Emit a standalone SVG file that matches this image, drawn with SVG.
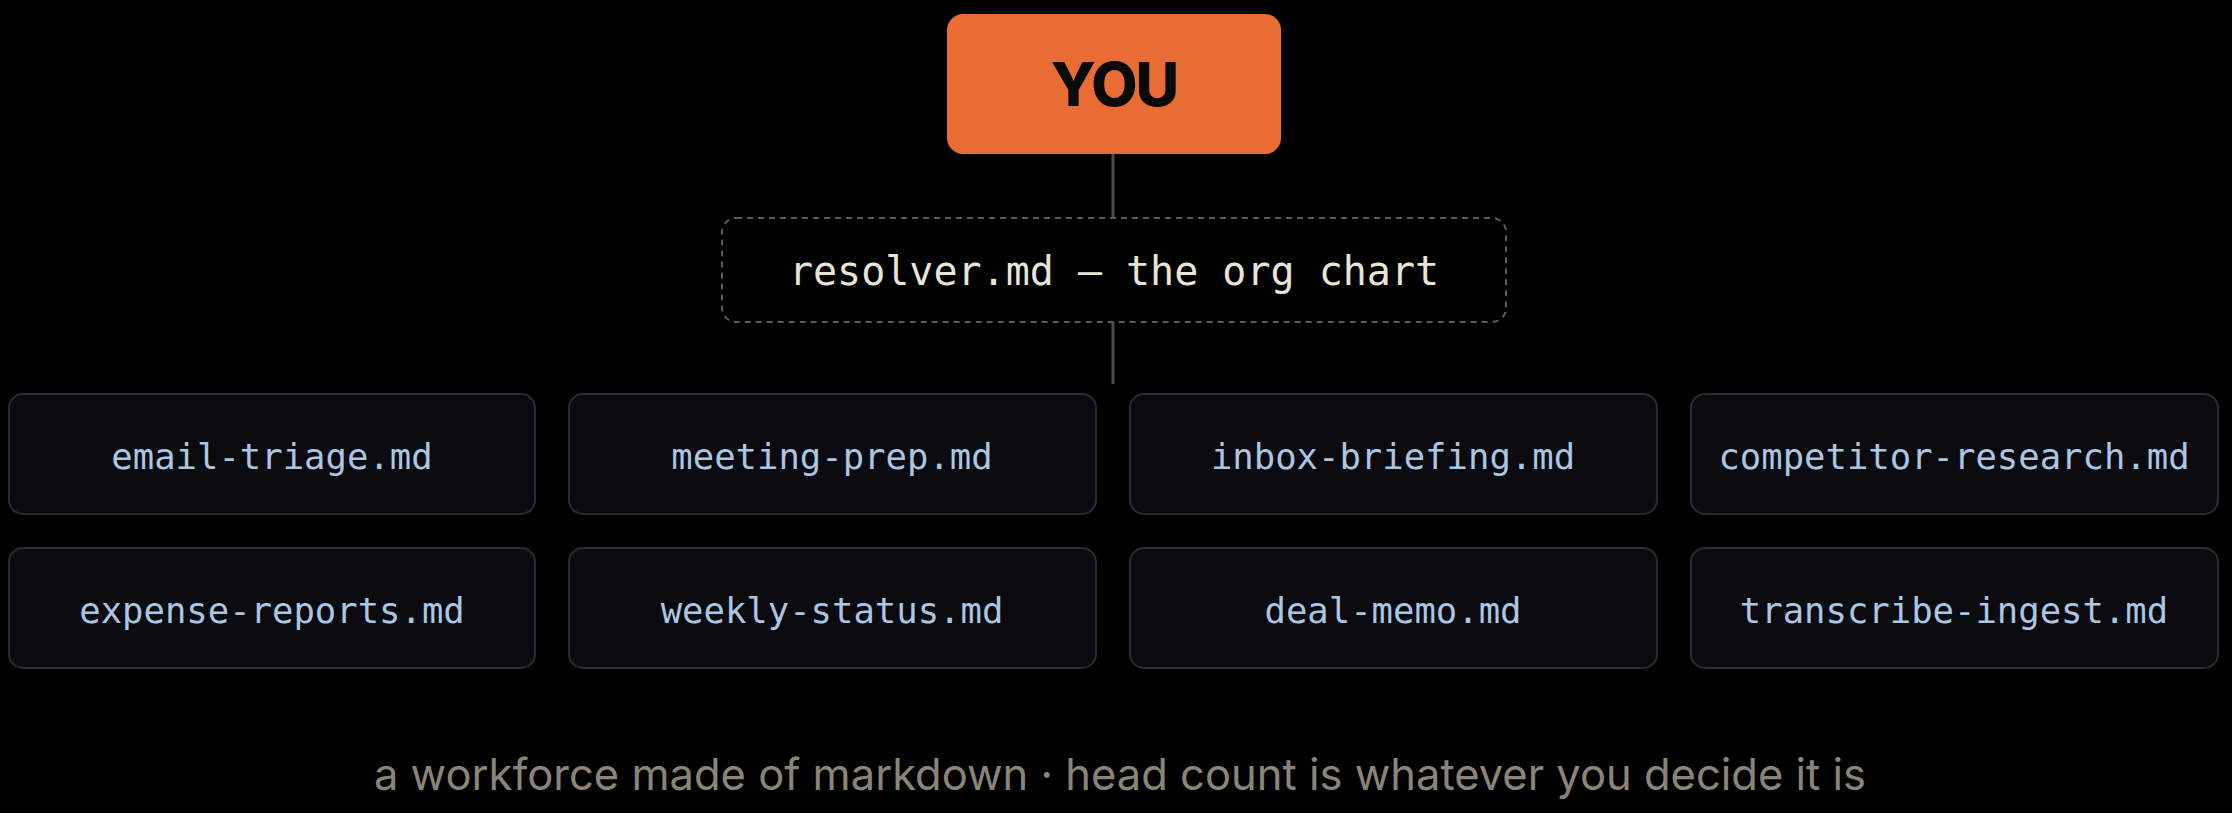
<svg xmlns="http://www.w3.org/2000/svg" width="2232" height="813" viewBox="0 0 2232 813">
<style>
.card{fill:#0a0a0f;stroke:#2b2b36;stroke-width:2}
.fn{font-family:"DejaVu Sans Mono","Liberation Mono",monospace;font-size:35.6px;fill:#aac6e2;text-anchor:middle}
.ln{stroke:#4a4a52;stroke-width:3}
</style>
<rect width="2232" height="813" fill="#000"/>
<g id="connectors">
<line class="ln" x1="1113" y1="154" x2="1113" y2="218"/>
<line class="ln" x1="1113" y1="322" x2="1113" y2="384"/>
</g>
<g id="you">
<rect x="947" y="14" width="334" height="140" rx="16" fill="#e86c33"/>
<text x="1114" y="106" font-family="Inter,'Liberation Sans',sans-serif" font-weight="800" font-size="60" fill="#0a0a0a" text-anchor="middle" letter-spacing="-2">YOU</text>
</g>
<g id="resolver">
<rect x="722" y="218" width="784" height="104" rx="14" fill="#000" stroke="#5a5a62" stroke-width="2" stroke-dasharray="6 5"/>
<text x="1114" y="285" font-family="'DejaVu Sans Mono','Liberation Mono',monospace" font-size="40" fill="#e8e4d8" text-anchor="middle">resolver.md — the org chart</text>
</g>
<g id="n1"><rect class="card" x="9" y="394" width="526" height="120" rx="14"/><text class="fn" x="272" y="469">email-triage.md</text></g>
<g id="n2"><rect class="card" x="569" y="394" width="527" height="120" rx="14"/><text class="fn" x="832" y="469">meeting-prep.md</text></g>
<g id="n3"><rect class="card" x="1130" y="394" width="527" height="120" rx="14"/><text class="fn" x="1393" y="469">inbox-briefing.md</text></g>
<g id="n4"><rect class="card" x="1691" y="394" width="527" height="120" rx="14"/><text class="fn" x="1954" y="469">competitor-research.md</text></g>
<g id="n5"><rect class="card" x="9" y="548" width="526" height="120" rx="14"/><text class="fn" x="272" y="623">expense-reports.md</text></g>
<g id="n6"><rect class="card" x="569" y="548" width="527" height="120" rx="14"/><text class="fn" x="832" y="623">weekly-status.md</text></g>
<g id="n7"><rect class="card" x="1130" y="548" width="527" height="120" rx="14"/><text class="fn" x="1393" y="623">deal-memo.md</text></g>
<g id="n8"><rect class="card" x="1691" y="548" width="527" height="120" rx="14"/><text class="fn" x="1954" y="623">transcribe-ingest.md</text></g>
<text x="1120" y="790" font-family="Inter,'Liberation Sans',sans-serif" font-size="43.5" fill="#8a8578" text-anchor="middle">a workforce made of markdown · head count is whatever you decide it is</text>
</svg>
